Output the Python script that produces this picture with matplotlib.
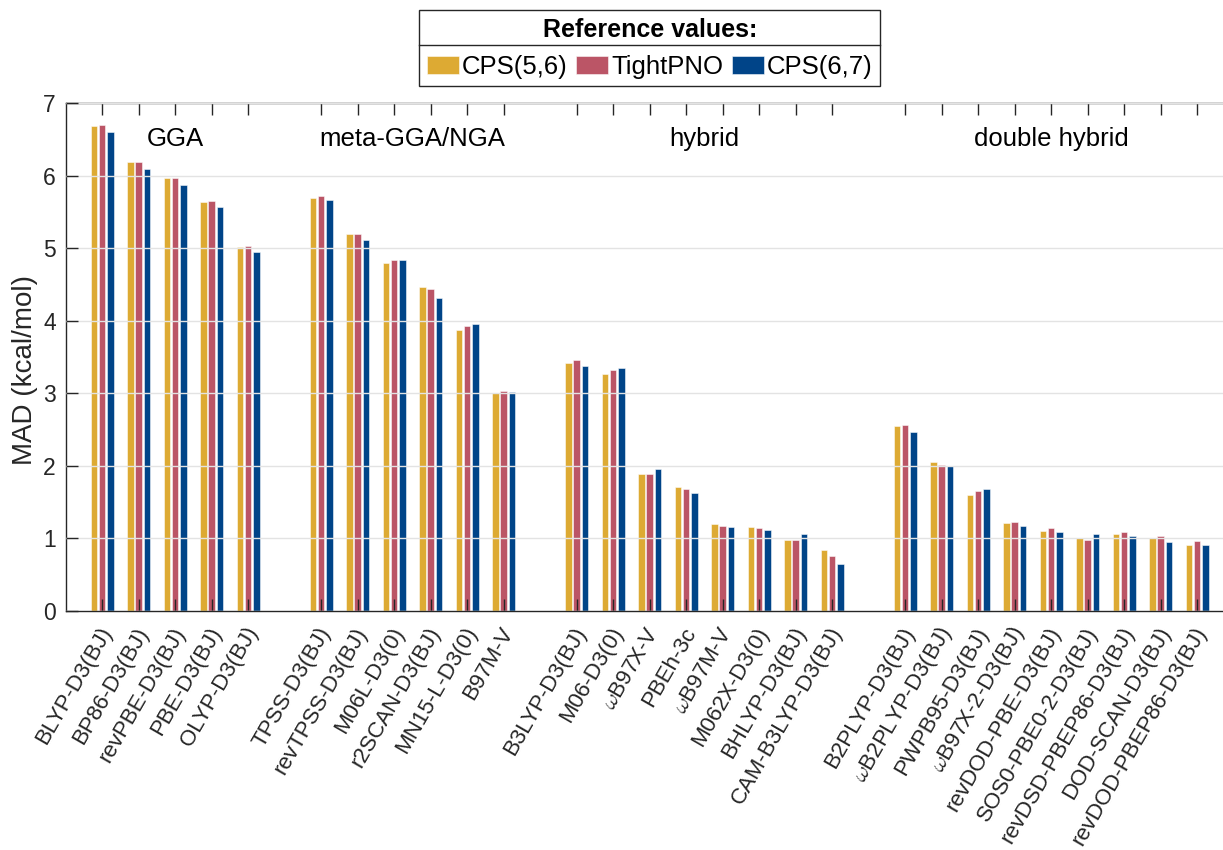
"""
MAD of density functionals against three reference levels (grouped bar chart)
"""
import numpy as np
import matplotlib
matplotlib.use("Agg")
import matplotlib.pyplot as plt
from matplotlib.lines import Line2D
from matplotlib.transforms import ScaledTranslation

plt.rcParams['font.family'] = ['Liberation Sans', 'DejaVu Sans']
plt.rcParams['mathtext.fontset'] = 'cm'

# functional families and their members
groups = ["GGA", "meta-GGA/NGA", "hybrid", "double hybrid"]
gga = ["BLYP-D3(BJ)", "BP86-D3(BJ)", "revPBE-D3(BJ)", "PBE-D3(BJ)", "OLYP-D3(BJ)"]
mgga = ["TPSS-D3(BJ)", "revTPSS-D3(BJ)", "M06L-D3(0)", "r2SCAN-D3(BJ)",
        "MN15-L-D3(0)", "B97M-V"]
hybrid = ["B3LYP-D3(BJ)", "M06-D3(0)", r"$\omega$B97X-V", "PBEh-3c",
          r"$\omega$B97M-V", "M062X-D3(0)", "BHLYP-D3(BJ)", "CAM-B3LYP-D3(BJ)"]
dhybrid = ["B2PLYP-D3(BJ)", r"$\omega$B2PLYP-D3(BJ)", "PWPB95-D3(BJ)",
           r"$\omega$B97X-2-D3(BJ)", "revDOD-PBE-D3(BJ)", "SOS0-PBE0-2-D3(BJ)",
           "revDSD-PBEP86-D3(BJ)", "DOD-SCAN-D3(BJ)", "revDOD-PBEP86-D3(BJ)"]

# MAD in kcal/mol for each reference
cps56 = [6.68, 6.19, 5.96, 5.63, 5.02,
         5.69, 5.20, 4.80, 4.46, 3.87, 3.00,
         3.42, 3.26, 1.89, 1.70, 1.19, 1.16, 0.98, 0.84,
         2.54, 2.05, 1.60, 1.21, 1.10, 1.00, 1.06, 1.00, 0.91]
tightpno = [6.70, 6.19, 5.97, 5.65, 5.03,
            5.72, 5.20, 4.84, 4.44, 3.92, 3.03,
            3.45, 3.32, 1.89, 1.68, 1.17, 1.14, 0.98, 0.76,
            2.56, 2.01, 1.65, 1.22, 1.14, 0.97, 1.09, 1.03, 0.96]
cps67 = [6.60, 6.09, 5.87, 5.56, 4.95,
         5.66, 5.11, 4.83, 4.31, 3.95, 3.01,
         3.37, 3.34, 1.95, 1.62, 1.16, 1.11, 1.06, 0.65,
         2.46, 1.99, 1.68, 1.17, 1.09, 1.06, 1.03, 0.95, 0.90]

series = [("CPS(5,6)", cps56, "#DDAA33"),
          ("TightPNO", tightpno, "#BB5566"),
          ("CPS(6,7)", cps67, "#004488")]

# x positions: one empty slot between families
members = [gga, mgga, hybrid, dhybrid]
labels, xpos, centers = [], [], []
x = 1
for fam in members:
    pos = list(range(x, x + len(fam)))
    labels += fam
    xpos += pos
    centers.append(np.mean(pos))
    x += len(fam) + 1
xpos = np.array(xpos, dtype=float)

axcol = "#262626"
fig = plt.figure(figsize=(12.23, 8.5), dpi=100)
ax = fig.add_axes([65.7 / 1223, 1 - 610.7 / 850, 1168 / 1223, 507.7 / 850])

offset = 0.225
width = 0.18
handles = []
for i, (name, vals, col) in enumerate(series):
    b = ax.bar(xpos + (i - 1) * offset, vals, width, color=col,
               edgecolor=(1, 1, 1, 0.6), linewidth=0.6, label=name, zorder=2)
    handles.append(b)

ax.set_xlim(0, 32)
ax.set_ylim(0, 7)
ax.set_yticks(range(8))
ax.set_xticks(xpos)
ax.set_xticklabels(labels, rotation=60, ha='right', va='center',
                   rotation_mode='anchor', fontsize=16, color=axcol)
ax.tick_params(axis='x', direction='in', top=True, length=8.6, width=1,
               color=axcol, pad=13)
ax.tick_params(axis='y', direction='in', length=8.6, width=1, color=axcol,
               labelsize=16.5, labelcolor=axcol, pad=7)
# nudge the slanted labels a little to the right of their ticks
shift = ScaledTranslation(5 / 100, 0, fig.dpi_scale_trans)
for lab in ax.get_xticklabels():
    lab.set_transform(lab.get_transform() + shift)
for t in ax.get_xticklines():
    t.set_zorder(3)
ax.set_axisbelow(False)
ax.yaxis.grid(True, color="#e3e3e3", linewidth=1, zorder=0)
for ln in ax.get_ygridlines():
    ln.set_zorder(0)
for s in ax.spines.values():
    s.set_color(axcol)
    s.set_linewidth(1)

ax.set_ylabel("MAD (kcal/mol)", fontsize=20, color=axcol)
ax.yaxis.set_label_coords(-0.024, 0.475)

for c, g in zip(centers, groups):
    ax.text(c, 6.5, g, ha='center', va='center', fontsize=18.5, color='black')

leg = ax.legend(handles=handles, loc='upper center', ncol=3,
                bbox_to_anchor=(649.7 / 1223, 1 - 10 / 850),
                bbox_transform=fig.transFigure, fontsize=18.5,
                title="Reference values:",
                title_fontproperties={'weight': 'bold', 'size': 18},
                frameon=True, fancybox=False, framealpha=1,
                handlelength=1.23, handleheight=0.7, handletextpad=0.12,
                columnspacing=0.35, borderpad=0.3, borderaxespad=0)
leg.get_frame().set_edgecolor(axcol)
leg.get_frame().set_linewidth(1)

# separator line under the legend title
fig.canvas.draw()
fb = leg.get_frame().get_window_extent()
tb = leg.get_title().get_window_extent()
inv = fig.transFigure.inverted()
ysep = tb.y0 - 3
(x0, y0), (x1, _) = inv.transform([(fb.x0, ysep), (fb.x1, ysep)])
fig.add_artist(Line2D([x0, x1], [y0, y0], transform=fig.transFigure,
                      color=axcol, linewidth=1))

fig.savefig("out.png", dpi=100)
